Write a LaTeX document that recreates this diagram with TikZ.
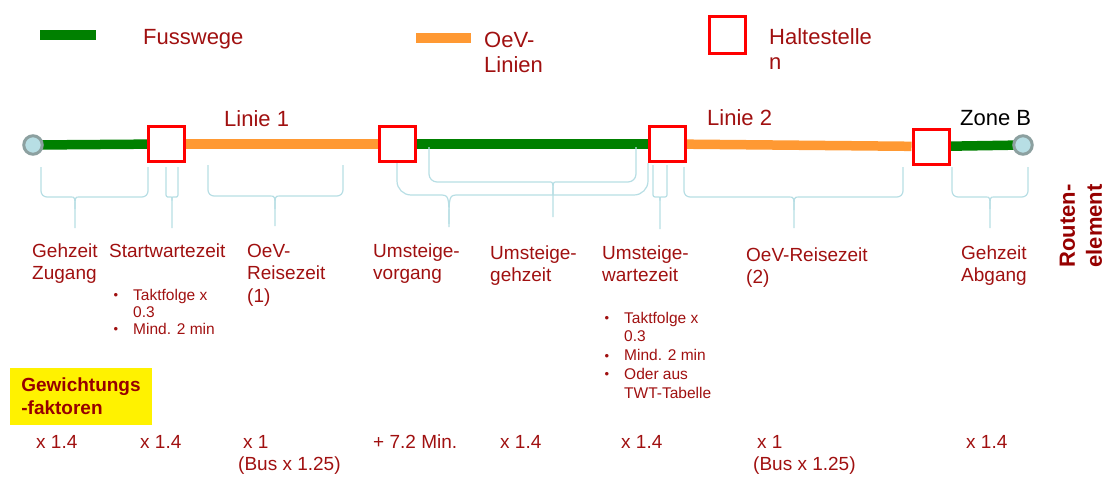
\documentclass[tikz,border=0pt]{standalone}
\usepackage{fontspec}
\setmainfont{Liberation Sans}
\usetikzlibrary{backgrounds}
\definecolor{txtred}{RGB}{160,16,16}
\definecolor{boldred}{RGB}{150,0,0}
\definecolor{fgreen}{RGB}{0,128,0}
\definecolor{oev}{RGB}{255,153,51}
\definecolor{brc}{RGB}{183,222,228}
\definecolor{circdraw}{RGB}{140,160,160}
\newcommand{\bul}{\llap{\raisebox{0.5pt}{\fontsize{13}{13}\selectfont\textbullet}\hspace{15pt}}}
% x1, x2, ytop1, ytop2, yh, tipx, tipy, tip radius, corner radius
\newcommand{\brc}[9]{%
  \draw[bracestyle] (#1,#3) [rounded corners=#9] -- (#1,#5) -- (#6-#8,#5) [sharp corners] .. controls (#6,#5) .. (#6,#5+#8*1.2) -- (#6,#7);
  \draw[bracestyle] (#2,#4) [rounded corners=#9] -- (#2,#5) -- (#6+#8,#5) [sharp corners] .. controls (#6,#5) .. (#6,#5+#8*1.2);
}
\tikzset{
  bracestyle/.style={draw=brc, line width=1.2pt},
  lbl/.style={anchor=base west, align=left, inner sep=0pt, text=txtred, font=\fontsize{19}{22.5}\selectfont},
  small/.style={anchor=base west, align=left, inner sep=0pt, text=txtred, font=\fontsize{15.5}{17}\selectfont},
  big/.style={anchor=base west, align=left, inner sep=0pt, text=txtred, font=\fontsize{22}{25}\selectfont},
  stop/.style={draw=red, line width=3pt, fill=white, rectangle, minimum width=36pt, minimum height=35pt, inner sep=0pt},
  endpt/.style={circle, draw=circdraw, line width=3pt, fill=brc, minimum size=18.5pt, inner sep=0pt},
  foot/.style={draw=fgreen, line width=9.5pt},
  oevline/.style={draw=oev, line width=9.5pt},
}
\begin{document}
\begin{tikzpicture}[x=1pt,y=-1pt]
\useasboundingbox (0,0) rectangle (1108,477);
% legend
\coordinate (lg1) at (40,35); \coordinate (lg2) at (96,35);
\coordinate (lo1) at (416,38); \coordinate (lo2) at (471,38);
\draw[foot] (lg1) -- (lg2);
\draw[oevline] (lo1) -- (lo2);
\node[stop, minimum width=36pt, minimum height=37pt] (lh) at (727.5,35) {};
\node[big] (lgt) at (143,44) {Fusswege};
\node[big] (lot) at (484,72) {OeV-\\Linien};
\node[big] (lht) at (769,69) {Haltestelle\\n};
% main route
\node[endpt] (c1) at (33,145) {};
\node[endpt] (c2) at (1023,145) {};
\node[stop] (h1) at (166.5,144) {};
\node[stop] (h2) at (397.5,144) {};
\node[stop] (h3) at (667.5,144) {};
\node[stop] (h4) at (931,146.5) {};
\begin{scope}[on background layer]
\draw[foot] (c1.center) -- (h1);
\draw[oevline] (h1) -- (h2);
\draw[foot] (h2) -- (h3);
\draw[oevline] (h3) -- (h4);
\draw[foot] (h4) -- (c2.center);
\end{scope}
\node[big] (l1) at (224,126) {Linie 1};
\node[big] (l2) at (707,125) {Linie 2};
\node[big, text=black] (zb) at (960,125) {Zone B};
% braces
\brc{41}{148}{167}{167}{197}{75}{228}{10}{6}
\brc{166}{178}{167}{167}{197}{172}{228}{3}{2}
\brc{208}{343}{165}{165}{196}{275}{226}{11}{6}
\brc{397}{648}{163}{163}{195}{449}{227}{24}{14}
\brc{429}{636}{147}{147}{182}{553}{217}{11}{8}
\brc{653}{667}{165}{165}{197}{660}{229}{3}{2}
\brc{684}{903}{167}{167}{197}{794}{228}{11}{6}
\brc{952}{1028}{167}{167}{197}{990}{228}{10}{6}
% labels (base anchor = baseline of the last line)
\node[lbl] (t1) at (32,279.5) {Gehzeit\\Zugang};
\node[lbl] (t2) at (109,257) {Startwartezeit};
\node[small] (s1) at (133,334) {\bul Taktfolge x\\0.3\\\bul Mind. 2 min};
\node[lbl] (t3) at (247,302) {OeV-\\Reisezeit\\(1)};
\node[lbl] (t4) at (373,279.5) {Umsteige-\\vorgang};
\node[lbl] (t5) at (490,281.5) {Umsteige-\\gehzeit};
\node[lbl] (t6) at (602,281.5) {Umsteige-\\wartezeit};
\node[small, font=\fontsize{15.5}{18.75}\selectfont] (s2) at (624,398) {\bul Taktfolge x\\0.3\\\bul Mind. 2 min\\\bul Oder aus\\TWT-Tabelle};
\node[lbl] (t7) at (746,283.5) {OeV-Reisezeit\\(2)};
\node[lbl] (t8) at (961,281.5) {Gehzeit\\Abgang};
% route element
\node[rotate=90, align=center, inner sep=0pt, text=boldred, font=\bfseries\fontsize{22}{27}\selectfont] (re) at (1081,226) {Routen-\\element};
% weights
\node[fill=yellow, minimum width=142pt, minimum height=57pt, inner sep=0pt, align=left, text=boldred, font=\bfseries\fontsize{19}{23}\selectfont] (gw) at (81,396.5) {Gewichtungs\\-faktoren};
\node[lbl] (w1) at (36,448) {x 1.4};
\node[lbl] (w2) at (140,448) {x 1.4};
\node[lbl] (w3) at (238,470.5) {\hspace*{5pt}x 1\\(Bus x 1.25)};
\node[lbl] (w4) at (373,448) {+ 7.2 Min.};
\node[lbl] (w5) at (500,448) {x 1.4};
\node[lbl] (w6) at (621,448) {x 1.4};
\node[lbl] (w7) at (753,470.5) {\hspace*{4pt}x 1\\(Bus x 1.25)};
\node[lbl] (w8) at (966,448) {x 1.4};
\end{tikzpicture}
\end{document}
